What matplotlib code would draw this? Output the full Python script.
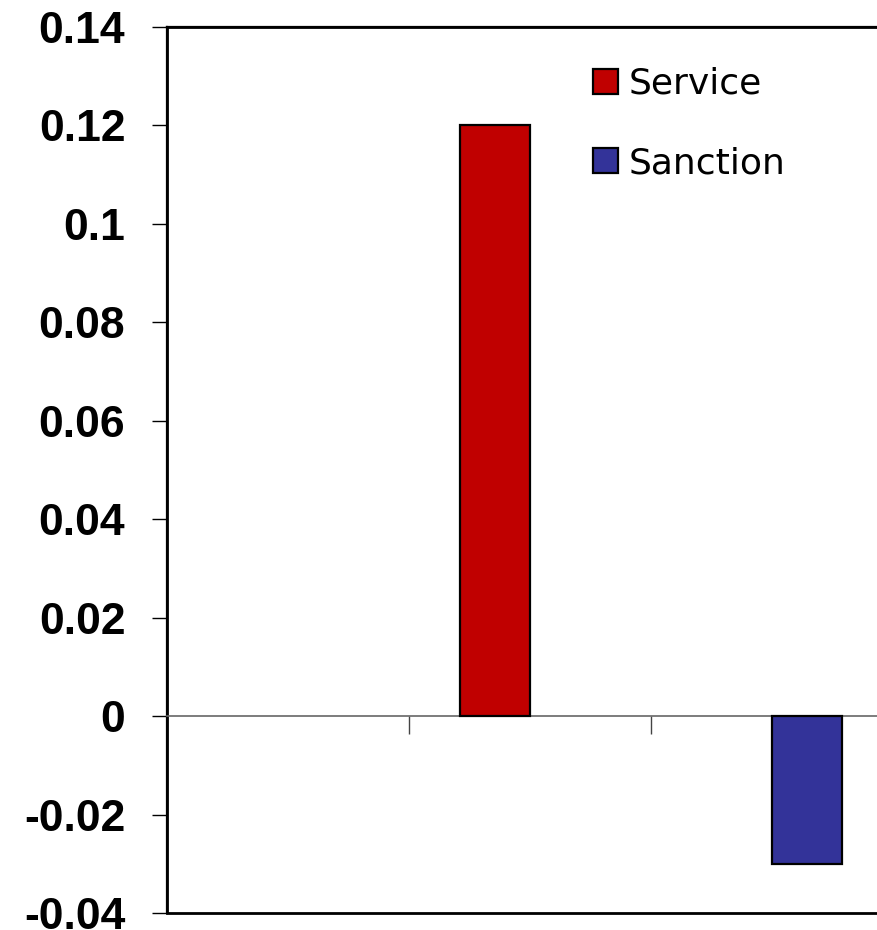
import numpy as np
import matplotlib
matplotlib.use("Agg")
import matplotlib.pyplot as plt
from matplotlib.ticker import FixedLocator, FuncFormatter

# values (three categories, no category labels)
groups = [1, 2, 3]
service = [np.nan, 0.12, np.nan]
sanction = [np.nan, np.nan, -0.03]
yticks = [-0.04, -0.02, 0, 0.02, 0.04, 0.06, 0.08, 0.1, 0.12, 0.14]

plt.rcParams['axes.unicode_minus'] = False

fig = plt.figure(figsize=(8.77, 9.30), dpi=100)
# axes runs past the right edge, like the cropped original
ax = fig.add_axes([167 / 877, 17 / 930, 726 / 877, 886 / 930])

w = 0.29
x = np.array(groups, dtype=float)
ax.bar(x - w / 2, service, w, color='#C00000', edgecolor='black', linewidth=1.6, label='Service', zorder=3)
ax.bar(x + w / 2, sanction, w, color='#333399', edgecolor='black', linewidth=1.6, label='Sanction', zorder=3)

ax.set_xlim(0.5, 3.5)
ax.set_ylim(-0.04, 0.14)

# y axis
ax.yaxis.set_major_locator(FixedLocator(yticks))
ax.yaxis.set_major_formatter(FuncFormatter(lambda v, p: '{:g}'.format(round(v, 4))))
ax.tick_params(axis='y', direction='out', length=11, width=1, pad=19, labelsize=32)
for t in ax.get_yticklabels():
    t.set_fontfamily('Liberation Sans')
    t.set_fontweight('bold')

# category axis crossing at zero
ax.spines['bottom'].set_position(('data', 0))
ax.spines['bottom'].set_color('#666666')
ax.spines['bottom'].set_linewidth(1.2)
ax.xaxis.set_major_locator(FixedLocator([1.5, 2.5]))
ax.set_xticklabels([])
ax.tick_params(axis='x', direction='out', length=13, width=1, color='#444444')

ax.spines['right'].set_visible(False)
ax.spines['top'].set_linewidth(1.6)
ax.spines['left'].set_linewidth(1.6)
# plot area border (gives the black line at the bottom)
ax.patch.set_edgecolor('black')
ax.patch.set_linewidth(2.0)

leg = ax.legend(loc='upper left', bbox_to_anchor=(593 / 877, 1 - 67 / 930),
                bbox_transform=fig.transFigure, frameon=False,
                prop={'family': 'DejaVu Sans', 'size': 26},
                handlelength=0.68, handleheight=0.68, handletextpad=0.3,
                labelspacing=1.25, borderpad=0, borderaxespad=0)

fig.savefig('out.png', dpi=100)
